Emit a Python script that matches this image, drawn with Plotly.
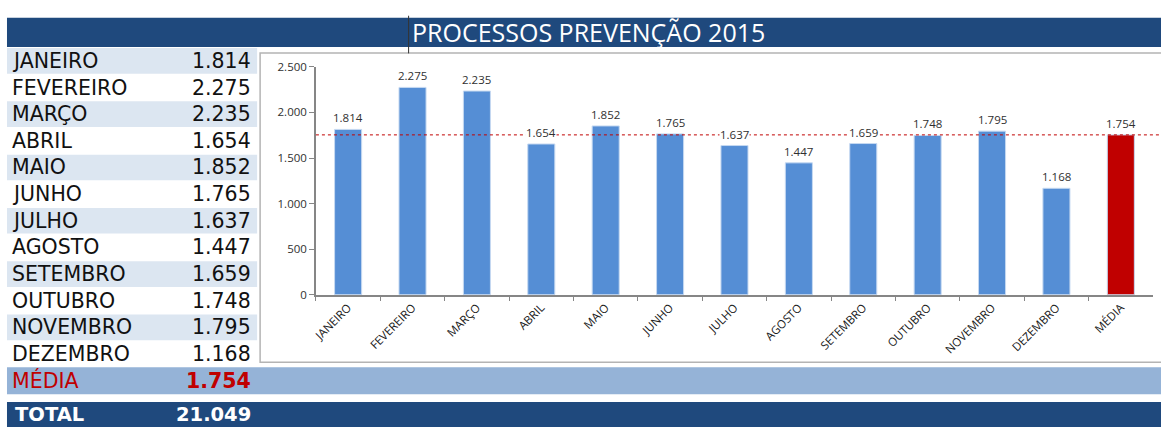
import plotly.graph_objects as go

# ---- data ----
months = ["JANEIRO", "FEVEREIRO", "MARÇO", "ABRIL", "MAIO", "JUNHO", "JULHO",
          "AGOSTO", "SETEMBRO", "OUTUBRO", "NOVEMBRO", "DEZEMBRO"]
values = [1814, 2275, 2235, 1654, 1852, 1765, 1637, 1447, 1659, 1748, 1795, 1168]
media_label = "MÉDIA"
media_value = 1754
total_label = "TOTAL"
total_value = 21049
title_text = "PROCESSOS PREVENÇÃO 2015"
y_ticks = [0, 500, 1000, 1500, 2000, 2500]

W, H = 1161, 434


def px(x):
    return x / W


def py(y):
    return 1 - y / H


def fmt(v):
    return f"{v:,}".replace(",", ".")


categories = months + [media_label]
bar_vals = values + [media_value]
bar_colors = ["#558ED5"] * len(months) + ["#C00000"]

BLUE_DARK = "#1F497D"
BAND = "#DCE6F1"
BAND_MED = "#95B3D7"
RED = "#C00000"
TXT = "#111111"
FONT = "Open Sans"
ROW_FONT = "DejaVu Sans"
ROW_FS = 20.5

fig = go.Figure()
fig.add_trace(go.Bar(
    x=categories, y=bar_vals, width=0.42,
    marker=dict(color=bar_colors, line=dict(color="#C6D9F1", width=1)),
    hoverinfo="x+y", showlegend=False,
))

shapes = []
annotations = []

# title bar
shapes.append(dict(type="rect", xref="paper", yref="paper", x0=px(3), x1=px(1161),
                   y0=py(40.5), y1=py(10), fillcolor=BLUE_DARK, line=dict(width=0), layer="above"))
annotations.append(dict(xref="paper", yref="paper", x=px(407), y=py(25), xanchor="left", yanchor="middle",
                        text=title_text, showarrow=False,
                        font=dict(family=FONT, size=25, color="white")))

# table rows
row_top = 41.0
row_h = 27.6
for i, (m, v) in enumerate(zip(months, values)):
    y0 = row_top + i * row_h
    y1 = y0 + row_h
    if i % 2 == 0:
        shapes.append(dict(type="rect", xref="paper", yref="paper", x0=px(3), x1=px(254),
                           y0=py(y1 - 0.5), y1=py(y0 + 0.5), fillcolor=BAND, line=dict(width=0)))
    yc = (y0 + y1) / 2
    annotations.append(dict(xref="paper", yref="paper", x=px(6), y=py(yc), xanchor="left", yanchor="middle",
                            text=m, showarrow=False, font=dict(family=ROW_FONT, size=ROW_FS, color=TXT)))
    annotations.append(dict(xref="paper", yref="paper", x=px(250), y=py(yc), xanchor="right", yanchor="middle",
                            text=fmt(v), showarrow=False, font=dict(family=ROW_FONT, size=ROW_FS, color=TXT)))

# media row
my0 = row_top + 12 * row_h
my1 = 400
shapes.append(dict(type="rect", xref="paper", yref="paper", x0=px(3), x1=px(1161),
                   y0=py(my1), y1=py(my0), fillcolor=BAND_MED, line=dict(width=0)))
annotations.append(dict(xref="paper", yref="paper", x=px(6), y=py((my0 + my1) / 2), xanchor="left",
                        yanchor="middle", text=media_label, showarrow=False,
                        font=dict(family=ROW_FONT, size=ROW_FS, color=RED)))
annotations.append(dict(xref="paper", yref="paper", x=px(250), y=py((my0 + my1) / 2), xanchor="right",
                        yanchor="middle", text="<b>" + fmt(media_value) + "</b>", showarrow=False,
                        font=dict(family=ROW_FONT, size=ROW_FS, color=RED)))

# total row
ty0, ty1 = 408, 434
shapes.append(dict(type="rect", xref="paper", yref="paper", x0=px(3), x1=px(1161),
                   y0=py(ty1), y1=py(ty0), fillcolor=BLUE_DARK, line=dict(width=0)))
annotations.append(dict(xref="paper", yref="paper", x=px(9), y=py(421.5), xanchor="left",
                        yanchor="middle", text="<b>" + total_label + "</b>", showarrow=False,
                        font=dict(family=ROW_FONT, size=19.5, color="white")))
annotations.append(dict(xref="paper", yref="paper", x=px(250), y=py(421.5), xanchor="right",
                        yanchor="middle", text="<b>" + fmt(total_value) + "</b>", showarrow=False,
                        font=dict(family=ROW_FONT, size=19.5, color="white")))

# chart box
shapes.append(dict(type="rect", xref="paper", yref="paper", x0=px(257), x1=px(1163),
                   y0=py(367), y1=py(46.5), fillcolor="rgba(0,0,0,0)",
                   line=dict(color="#B4B4B4", width=1.5), layer="above"))

# average reference line
shapes.append(dict(type="line", xref="paper", yref="y", x0=px(313), x1=px(1161),
                   y0=media_value, y1=media_value, line=dict(color=RED, width=1, dash="dot"), layer="above"))

# cursor-like vertical line
shapes.append(dict(type="line", xref="paper", yref="paper", x0=px(406), x1=px(406),
                   y0=py(47), y1=py(8), line=dict(color="#333333", width=1), layer="above"))

# data labels
for c, v in zip(categories, bar_vals):
    annotations.append(dict(x=c, y=v, xref="x", yref="y", yanchor="bottom", yshift=3,
                            text=fmt(v), showarrow=False, bgcolor="white", borderpad=0,
                            font=dict(family=FONT, size=11.5, color="#303030")))

fig.update_layout(
    width=W, height=H,
    margin=dict(l=0, r=0, t=0, b=0),
    paper_bgcolor="white", plot_bgcolor="white",
    separators=",.",
    bargap=0.58,
    shapes=shapes,
    annotations=annotations,
    xaxis=dict(domain=[px(313), px(1153)], type="category", tickangle=-45,
               ticks="outside", tickson="boundaries", ticklen=5, tickcolor="#868686",
               showline=True, linecolor="#868686", linewidth=1.5, showgrid=False,
               tickfont=dict(family=FONT, size=11.5, color="#202020"),
               range=[-0.5, 12.5], fixedrange=True),
    yaxis=dict(domain=[py(297), py(61)], range=[0, 2500], tickvals=y_ticks, tickformat=",d",
               ticks="outside", ticklen=5, tickcolor="#868686",
               showline=True, linecolor="#868686", linewidth=1.5, showgrid=False, zeroline=False,
               tickfont=dict(family=FONT, size=11.5, color="#303030")),
)

fig.write_html("out.html", config={"displayModeBar": False},
               post_script="document.body.style.margin='0';document.body.style.overflow='hidden';")
